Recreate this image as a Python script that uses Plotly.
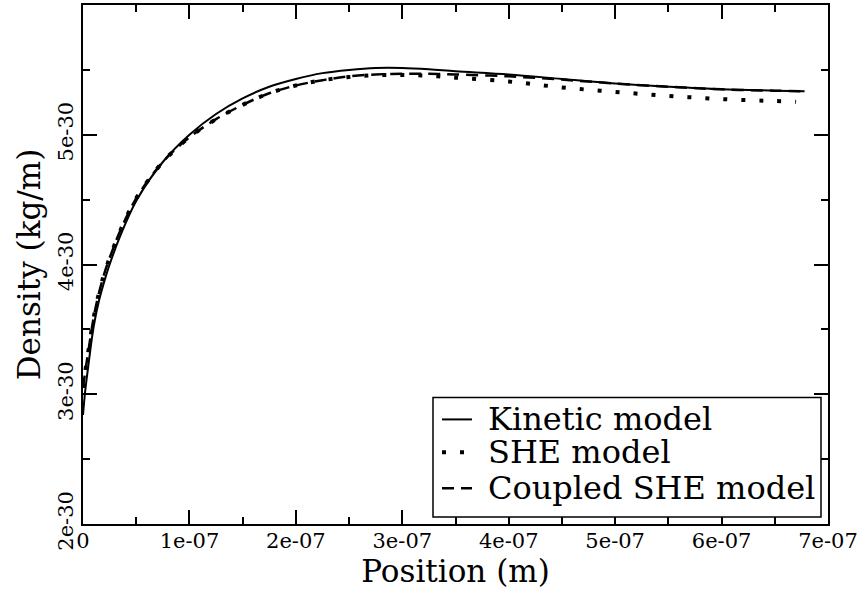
import plotly.graph_objects as go

# Position (m)
x_kin = [0.0, 0.02e-7, 0.05e-7, 0.1e-7, 0.15e-7, 0.2e-7, 0.25e-7, 0.35e-7, 0.5e-7, 0.75e-7,
         1.0e-7, 1.25e-7, 1.5e-7, 1.75e-7, 2.0e-7, 2.25e-7, 2.5e-7, 2.75e-7, 3.0e-7, 3.25e-7,
         3.5e-7, 4.0e-7, 4.5e-7, 5.0e-7, 5.5e-7, 6.0e-7, 6.5e-7, 6.78e-7]
# Density (kg/m)
kinetic = [2.84e-30, 3.02e-30, 3.22e-30, 3.52e-30, 3.72e-30, 3.87e-30, 4.00e-30, 4.22e-30, 4.49e-30, 4.79e-30,
           5.00e-30, 5.16e-30, 5.28e-30, 5.37e-30, 5.43e-30, 5.475e-30, 5.50e-30, 5.515e-30, 5.515e-30, 5.505e-30,
           5.49e-30, 5.465e-30, 5.43e-30, 5.395e-30, 5.37e-30, 5.35e-30, 5.34e-30, 5.335e-30]

x_she = [0.0, 0.02e-7, 0.05e-7, 0.1e-7, 0.15e-7, 0.2e-7, 0.25e-7, 0.35e-7, 0.5e-7, 0.75e-7,
         1.0e-7, 1.25e-7, 1.5e-7, 1.75e-7, 2.0e-7, 2.25e-7, 2.5e-7, 2.75e-7, 3.0e-7, 3.25e-7,
         3.5e-7, 4.0e-7, 4.5e-7, 5.0e-7, 5.5e-7, 6.0e-7, 6.5e-7, 6.7e-7]
she = [3.05e-30, 3.17e-30, 3.33e-30, 3.59e-30, 3.78e-30, 3.93e-30, 4.05e-30, 4.26e-30, 4.51e-30, 4.79e-30,
       4.98e-30, 5.12e-30, 5.23e-30, 5.32e-30, 5.38e-30, 5.42e-30, 5.445e-30, 5.46e-30, 5.46e-30, 5.455e-30,
       5.44e-30, 5.41e-30, 5.365e-30, 5.33e-30, 5.30e-30, 5.275e-30, 5.26e-30, 5.255e-30]

x_cpl = [0.0, 0.02e-7, 0.05e-7, 0.1e-7, 0.15e-7, 0.2e-7, 0.25e-7, 0.35e-7, 0.5e-7, 0.75e-7,
         1.0e-7, 1.25e-7, 1.5e-7, 1.75e-7, 2.0e-7, 2.25e-7, 2.5e-7, 2.75e-7, 3.0e-7, 3.25e-7,
         3.5e-7, 4.0e-7, 4.5e-7, 5.0e-7, 5.5e-7, 6.0e-7, 6.5e-7, 6.78e-7]
coupled = [3.05e-30, 3.17e-30, 3.33e-30, 3.59e-30, 3.78e-30, 3.93e-30, 4.05e-30, 4.26e-30, 4.51e-30, 4.79e-30,
           4.98e-30, 5.12e-30, 5.23e-30, 5.32e-30, 5.38e-30, 5.42e-30, 5.45e-30, 5.465e-30, 5.47e-30, 5.47e-30,
           5.465e-30, 5.45e-30, 5.425e-30, 5.395e-30, 5.37e-30, 5.35e-30, 5.34e-30, 5.335e-30]

series_names = ["Kinetic model", "SHE model", "Coupled SHE model"]

x_tickvals = [0, 1e-7, 2e-7, 3e-7, 4e-7, 5e-7, 6e-7, 7e-7]
x_ticktext = ["0", "1e-07", "2e-07", "3e-07", "4e-07", "5e-07", "6e-07", "7e-07"]
x_minor = [0.5e-7, 1.5e-7, 2.5e-7, 3.5e-7, 4.5e-7, 5.5e-7, 6.5e-7]
y_tickvals = [2e-30, 3e-30, 4e-30, 5e-30, 6e-30]
y_ticktext = ["2e-30", "3e-30", "4e-30", "5e-30", ""]
y_minor = [2.5e-30, 3.5e-30, 4.5e-30, 5.5e-30]

FONT = "DejaVu Serif"

line_styles = [
    dict(color="black", width=2),
    dict(color="black", width=4, dash="4px,14px"),
    dict(color="black", width=2.5, dash="12px,7px"),
]

fig = go.Figure()
for xs, ys, name, ls in zip([x_kin, x_she, x_cpl], [kinetic, she, coupled], series_names, line_styles):
    fig.add_trace(go.Scatter(x=xs, y=ys, mode="lines", name=name, showlegend=False,
                             line=dict(shape="spline", **ls)))

axis_common = dict(
    showgrid=False, zeroline=False, showline=True, linecolor="black", linewidth=2,
    mirror="allticks", ticks="inside", ticklen=14, tickwidth=1.5, tickcolor="black",
    tickfont=dict(family=FONT, size=21, color="black"), ticklabeloverflow="allow",
)

fig.update_xaxes(**axis_common, range=[0, 7e-7], tickmode="array",
                 tickvals=x_tickvals, ticktext=x_ticktext, ticklabelstandoff=-3,
                 minor=dict(tickmode="array", tickvals=x_minor, ticks="inside", ticklen=7,
                            tickwidth=1.5, tickcolor="black"),
                 title=dict(text="Position (m)", font=dict(family=FONT, size=31, color="black"),
                            standoff=8))
fig.update_yaxes(**axis_common, range=[2e-30, 6e-30], tickmode="array",
                 tickvals=y_tickvals, ticktext=y_ticktext, tickangle=-90, ticklabelstandoff=0,
                 minor=dict(tickmode="array", tickvals=y_minor, ticks="inside", ticklen=7,
                            tickwidth=1.5, tickcolor="black"),
                 title=dict(text="Density (kg/m)", font=dict(family=FONT, size=31, color="black"),
                            standoff=4))

shapes = [dict(type="rect", xref="paper", yref="paper", x0=0.4698, x1=0.9906, y0=0.0134, y1=0.2438,
               line=dict(color="black", width=1.5), fillcolor="white", layer="above")]
annotations = []
row_y = [0.2015, 0.1382, 0.0691]
for name, ls, yy in zip(series_names, line_styles, row_y):
    shapes.append(dict(type="line", xref="paper", yref="paper", x0=0.4819, x1=0.5221, y0=yy, y1=yy,
                       line=ls, layer="above"))
    annotations.append(dict(text=name, xref="paper", yref="paper", x=0.5410, y=yy,
                            xanchor="left", yanchor="middle", showarrow=False,
                            font=dict(family=FONT, size=32, color="black")))

fig.update_layout(
    width=862, height=600,
    margin=dict(l=83, r=34, t=3, b=76),
    plot_bgcolor="white", paper_bgcolor="white",
    shapes=shapes, annotations=annotations,
)

fig.write_html("out.html")
